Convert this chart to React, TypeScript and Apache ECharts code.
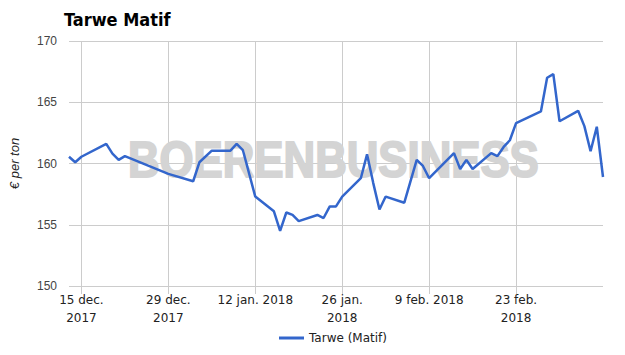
import React, { useEffect, useRef } from "react";
import * as echarts from "echarts";

const dates = [
  "2017-12-13", "2017-12-14", "2017-12-15", "2017-12-19", "2017-12-20", "2017-12-21", "2017-12-22",
  "2017-12-29", "2018-01-02", "2018-01-03", "2018-01-05", "2018-01-08", "2018-01-09", "2018-01-10",
  "2018-01-12", "2018-01-15", "2018-01-16", "2018-01-17", "2018-01-18", "2018-01-19", "2018-01-22",
  "2018-01-23", "2018-01-24", "2018-01-25", "2018-01-26", "2018-01-29", "2018-01-30", "2018-01-31",
  "2018-02-01", "2018-02-02", "2018-02-05", "2018-02-07", "2018-02-08", "2018-02-09", "2018-02-13",
  "2018-02-14", "2018-02-15", "2018-02-16", "2018-02-19", "2018-02-20", "2018-02-21", "2018-02-22",
  "2018-02-23", "2018-02-27", "2018-02-28", "2018-03-01", "2018-03-02", "2018-03-05", "2018-03-06",
  "2018-03-07", "2018-03-08", "2018-03-09",
];

const prices = [
  160.55, 160.1, 160.55, 161.6, 160.8, 160.3, 160.6,
  159.15, 158.55, 160.1, 161.05, 161.05, 161.6, 161.1,
  157.3, 156.1, 154.5, 156.0, 155.8, 155.3, 155.8,
  155.55, 156.5, 156.5, 157.3, 158.8, 160.75, 158.4,
  156.25, 157.3, 156.8, 160.3, 159.8, 158.8, 160.85,
  159.55, 160.3, 159.55, 160.85, 160.6, 161.35, 161.9,
  163.3, 164.25, 167.0, 167.3, 163.45, 164.3, 163.05,
  161.0, 163.0, 158.9,
];

const tickDates = ["2017-12-15", "2017-12-29", "2018-01-12", "2018-01-26", "2018-02-09", "2018-02-23"];
const tickLabels = ["15 dec.\n2017", "29 dec.\n2017", "12 jan. 2018", "26 jan.\n2018", "9 feb. 2018", "23 feb.\n2018"];

const xMin = "2017-12-13";
const xMax = "2018-03-09";
const yMin = 150;
const yMax = 170;
const yStep = 5;

const seriesName = "Tarwe (Matif)";
const title = "Tarwe Matif";
const yName = "€ per ton";
const watermark = "BOERENBUSINESS";

const ts = (s: string) => {
  const [y, m, d] = s.split("-").map(Number);
  return Date.UTC(y, m - 1, d);
};

export default function App() {
  const ref = useRef<HTMLDivElement>(null);
  useEffect(() => {
    if (!ref.current) return;
    const chart = echarts.init(ref.current, null, { renderer: "svg" });
    const tickVals = tickDates.map(ts);
    const labelMap: Record<string, string> = {};
    tickVals.forEach((v, i) => (labelMap[String(v)] = tickLabels[i]));
    chart.setOption({
      animation: false,
      backgroundColor: "#ffffff",
      title: {
        text: title,
        left: 64,
        top: 10,
        padding: 0,
        textStyle: {
          fontFamily: "'DejaVu Sans Condensed', 'DejaVu Sans'",
          fontWeight: "bold",
          fontSize: 18,
          color: "#000000",
        },
      },
      legend: {
        data: [seriesName],
        icon: "rect",
        itemWidth: 25,
        itemHeight: 3,
        left: 279,
        top: 332,
        padding: 0,
        textStyle: { fontFamily: "'DejaVu Sans'", fontSize: 12, color: "#222222" },
      },
      graphic: [
        {
          type: "text",
          x: 128,
          y: 159,
          scaleX: 0.875,
          z: 1,
          silent: true,
          style: {
            text: watermark,
            fill: "#d4d4d4",
            stroke: "#d4d4d4",
            lineWidth: 2,
            fontFamily: "'Liberation Sans', Arial, sans-serif",
            fontWeight: "bold",
            fontSize: 50,
            textVerticalAlign: "middle",
          },
        },
      ],
      grid: { left: 65, right: 22, top: 41, bottom: 69, containLabel: false },
      xAxis: {
        type: "value",
        min: ts(xMin),
        max: ts(xMax),
        axisLine: { show: false },
        axisTick: {
          show: true,
          length: 8,
          customValues: tickVals,
          lineStyle: { color: "#cccccc" },
        },
        splitLine: { show: true, lineStyle: { color: "#cccccc", width: 1 } },
        axisLabel: {
          customValues: tickVals,
          formatter: (v: number) => labelMap[String(v)] ?? "",
          fontFamily: "'DejaVu Sans'",
          fontSize: 12,
          lineHeight: 18,
          color: "#222222",
          margin: 5,
          hideOverlap: false,
        },
      },
      yAxis: {
        type: "value",
        min: yMin,
        max: yMax,
        interval: yStep,
        name: yName,
        nameLocation: "middle",
        nameRotate: 90,
        nameGap: 48,
        nameTextStyle: {
          fontFamily: "'Liberation Sans'",
          fontStyle: "italic",
          fontSize: 13,
          color: "#222222",
        },
        axisLine: { show: false },
        axisTick: { show: false },
        splitLine: { show: true, lineStyle: { color: "#cccccc", width: 1 } },
        axisLabel: {
          fontFamily: "'Liberation Sans'",
          fontSize: 12,
          color: "#444444",
          margin: 12,
        },
      },
      series: [
        {
          name: seriesName,
          type: "line",
          data: dates.map((d, i) => [ts(d), prices[i]]),
          showSymbol: false,
          symbol: "none",
          z: 3,
          lineStyle: { color: "#3366cc", width: 2.5 },
          itemStyle: { color: "#3366cc" },
        },
      ],
    });
    return () => chart.dispose();
  }, []);
  return <div ref={ref} style={{ width: 625, height: 355, position: "absolute", left: 0, top: 0 }} />;
}
